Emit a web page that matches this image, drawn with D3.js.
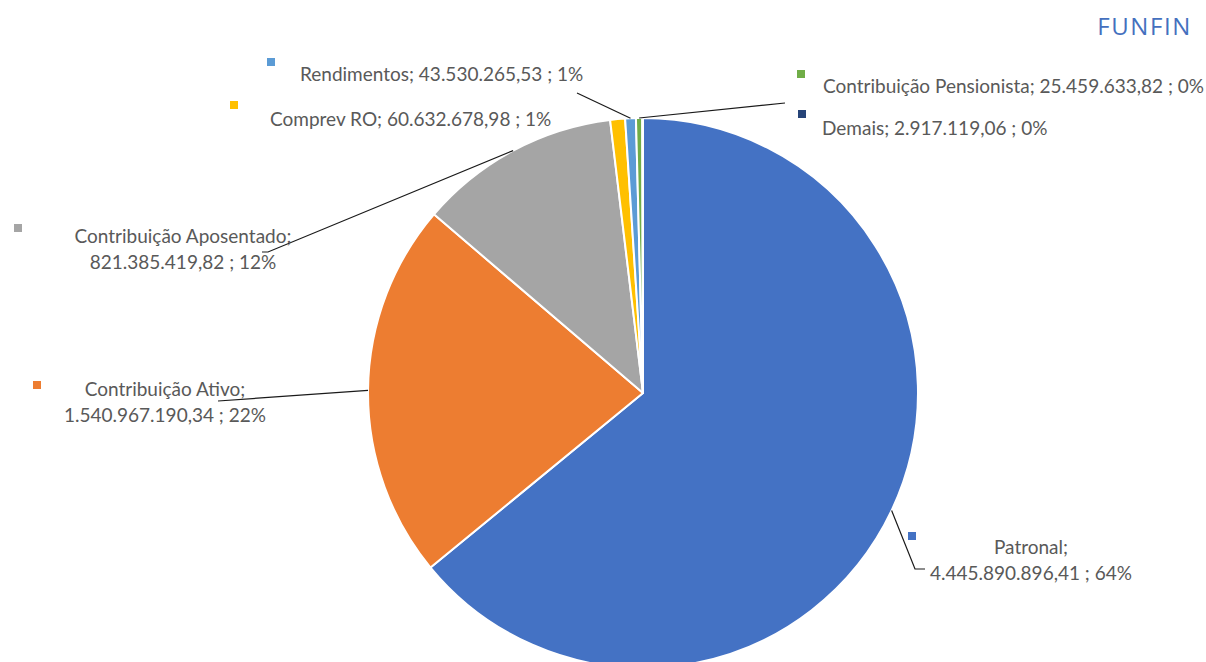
<!DOCTYPE html>
<html lang="en">
<head>
<meta charset="UTF-8">
<title>FUNFIN</title>
<script src="https://d3js.org/d3.v7.min.js"></script>
<style>
  body { margin: 0; background: #fff; }
  text { font-family: Lato, "Noto Sans", sans-serif; fill: #595959; }
</style>
</head>
<body>
<div id="chart"></div>
<script>
// Data (from the chart)
const categories = ["Patronal", "Contribuição Ativo", "Contribuição Aposentado", "Comprev RO",
                    "Rendimentos", "Contribuição Pensionista", "Demais"];
const values = [4445890896.41, 1540967190.34, 821385419.82, 60632678.98,
                43530265.53, 25459633.82, 2917119.06];
const valueLabels = ["4.445.890.896,41", "1.540.967.190,34", "821.385.419,82", "60.632.678,98",
                     "43.530.265,53", "25.459.633,82", "2.917.119,06"];
const percentLabels = ["64%", "22%", "12%", "1%", "1%", "0%", "0%"];
const colors = ["#4472C4", "#ED7D31", "#A5A5A5", "#FFC000", "#5B9BD5", "#70AD47", "#264478"];

// Label layout: text anchor point, line breaking, legend key and leader end
const labelLayout = [
  {x: 1031, y: 554, lines: 2, anchor: "middle", key: [908, 532], leader: [[915, 569], [925, 569]]},
  {x: 165, y: 396, lines: 2, anchor: "middle", key: [33, 381], leader: [[218, 401]]},
  {x: 183, y: 243, lines: 2, anchor: "middle", key: [14, 224], leader: [[268, 252], [262, 252]]},
  {x: 270, y: 126, lines: 1, anchor: "start", key: [230, 101], leader: null},
  {x: 300, y: 81, lines: 1, anchor: "start", key: [267, 58], leader: [[577, 93]]},
  {x: 823, y: 93, lines: 1, anchor: "start", key: [797, 70], leader: [[785, 103]]},
  {x: 822, y: 135, lines: 1, anchor: "start", key: [798, 110], leader: null}
];

const W = 1206, H = 662;
const cx = 643, cy = 393, radius = 275;

const svg = d3.select("#chart")
  .append("svg")
  .attr("width", W)
  .attr("height", H);

const data = categories.map((c, i) => ({
  name: c, value: values[i], vLabel: valueLabels[i], pLabel: percentLabels[i],
  color: colors[i], layout: labelLayout[i]
}));

const pie = d3.pie().sort(null).value(d => d.value);
const arcs = pie(data);
const arc = d3.arc().innerRadius(0).outerRadius(radius);

const g = svg.append("g").attr("transform", `translate(${cx},${cy})`);

g.selectAll("path.slice")
  .data(arcs)
  .enter().append("path")
  .attr("class", "slice")
  .attr("d", arc)
  .attr("fill", d => d.data.color)
  .attr("stroke", "#fff")
  .attr("stroke-width", 2)
  .attr("stroke-linejoin", "round");

// Leader lines
const edgeArc = d3.arc().innerRadius(radius).outerRadius(radius);
svg.selectAll("polyline.leader")
  .data(arcs.filter(d => d.data.layout.leader))
  .enter().append("polyline")
  .attr("class", "leader")
  .attr("fill", "none")
  .attr("stroke", "#1a1a1a")
  .attr("stroke-width", 1.2)
  .attr("points", d => {
    const c = edgeArc.centroid(d);
    const pts = [[c[0] + cx, c[1] + cy]].concat(d.data.layout.leader);
    return pts.map(p => p.join(",")).join(" ");
  });

// Legend keys
svg.selectAll("rect.key")
  .data(data)
  .enter().append("rect")
  .attr("class", "key")
  .attr("x", d => d.layout.key[0])
  .attr("y", d => d.layout.key[1])
  .attr("width", 8)
  .attr("height", 8)
  .attr("fill", d => d.color);

// Labels
const labels = svg.selectAll("text.label")
  .data(data)
  .enter().append("text")
  .attr("class", "label")
  .attr("x", d => d.layout.x)
  .attr("y", d => d.layout.y)
  .attr("text-anchor", d => d.layout.anchor)
  .style("font-size", "19px");

labels.each(function(d) {
  const t = d3.select(this);
  if (d.layout.lines === 2) {
    t.append("tspan").attr("x", d.layout.x).text(d.name + ";");
    t.append("tspan").attr("x", d.layout.x).attr("dy", 26).text(d.vLabel + " ; " + d.pLabel);
  } else {
    t.text(d.name + "; " + d.vLabel + " ; " + d.pLabel);
  }
});

// Title
svg.append("text")
  .attr("x", 1192)
  .attr("y", 35)
  .attr("text-anchor", "end")
  .style("font-family", "\"Open Sans\", Lato, sans-serif")
  .style("font-size", "24px")
  .style("letter-spacing", "1.6px")
  .style("fill", "#4470BE")
  .text("FUNFIN");
</script>
</body>
</html>
